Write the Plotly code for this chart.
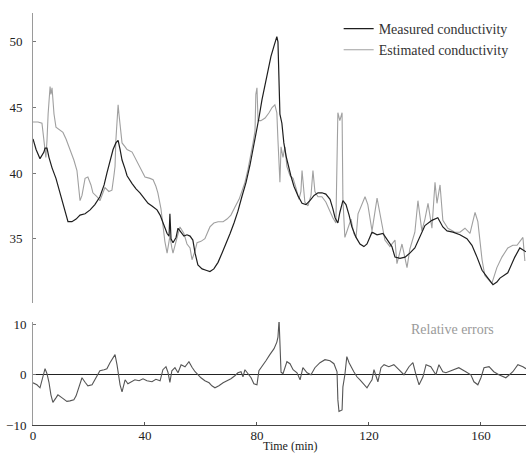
import plotly.graph_objects as go

# Time axis (min) and conductivity series
t_meas = [0, 1.1, 2.5, 3.9, 4.3, 5.0, 5.7, 6.8, 8.2, 9.6, 11.1, 12.5, 13.9, 15.4, 16.8, 18.6, 20.4, 22.1,
          23.9, 25.4, 26.4, 27.5, 28.6, 29.6, 30.4, 31.1, 31.8, 32.9, 33.6, 35.4, 36.8, 38.2, 39.6, 41.1,
          42.5, 44.3, 45.4, 46.4, 47.9, 48.6, 48.9, 49.3, 50.0, 51.1, 51.8, 52.5, 53.9, 55.0, 56.1, 57.1, 57.9,
          58.9, 60.4, 61.8, 63.2, 64.6, 66.1, 67.5, 68.9, 70.4, 71.8, 73.2, 74.6, 76.1, 77.5, 78.6,
          79.6, 80.7, 81.8, 82.9, 83.9, 85.0, 86.1, 87.1, 87.5, 87.9, 88.2, 88.9, 89.6, 90.4, 91.1,
          92.1, 93.2, 94.6, 96.1, 97.5, 98.9, 100.4, 101.8, 103.2, 104.6, 106.1, 107.1, 107.9, 108.9,
          109.6, 110.7, 111.8, 112.9, 113.9, 115.4, 116.8, 118.2, 119.3, 121.1, 122.9, 125.0, 126.4,
          128.2, 129.3, 131.1, 132.9, 134.6, 136.4, 138.2, 140.0, 142.5, 144.6, 146.4, 147.9, 150.0,
          152.5, 155.0, 156.8, 158.6, 160.4, 162.5, 164.3, 165.7, 166.8, 169.6, 172.1, 173.9, 176.1]
measured = [42.6, 41.8, 41.1, 41.6, 41.9, 41.9, 41.2, 40.4, 39.6, 38.5, 37.3, 36.3, 36.3, 36.5, 36.8, 36.9,
            37.2, 37.6, 38.2, 39.1, 40.0, 40.9, 41.8, 42.3, 42.5, 41.8, 41.0, 40.3, 39.8, 39.2, 38.8, 38.5,
            38.1, 37.7, 37.5, 37.2, 36.8, 36.2, 35.4, 35.2, 36.9, 35.0, 34.7, 35.1, 35.8, 35.6, 35.2, 35.3, 35.2,
            34.9, 33.9, 33.0, 32.7, 32.6, 32.5, 32.7, 33.2, 33.9, 34.6, 35.4, 36.2, 37.1, 38.2, 39.3,
            40.6, 41.8, 42.9, 44.2, 45.6, 46.8, 47.9, 48.9, 49.7, 50.4, 50.0, 47.0, 44.5, 43.8, 42.3,
            41.3, 40.6, 39.8, 39.0, 38.3, 37.7, 37.6, 37.9, 38.3, 38.5, 38.5, 38.4, 38.0, 37.3, 36.6,
            36.2, 37.0, 37.9, 37.6, 36.8, 35.9, 35.1, 34.6, 34.4, 34.6, 35.5, 35.3, 35.4, 35.0, 34.4,
            33.6, 33.5, 33.6, 33.9, 34.3, 35.1, 36.0, 36.4, 36.6, 35.9, 35.6, 35.5, 35.3, 35.0, 34.5,
            33.6, 32.6, 32.0, 31.5, 31.7, 32.0, 32.4, 33.6, 34.3, 34.0]

t_est = [0, 1.8, 3.2, 3.9, 4.6, 5.0, 5.4, 6.1, 6.4, 6.8, 7.5, 8.2, 9.6, 10.7, 11.8, 13.2, 14.6, 15.7, 16.4,
         16.8, 17.5, 18.6, 19.6, 20.7, 21.4, 22.9, 23.9, 25.0, 25.7, 27.1, 28.2, 28.9, 29.3, 29.6, 30.4,
         30.7, 31.1, 31.8, 32.9, 33.6, 35.4, 36.8, 38.2, 40.0, 41.8, 42.9, 43.9, 44.6, 45.7, 46.4, 47.1,
         47.9, 48.6, 48.9, 49.6, 50.0, 51.1, 52.5, 53.9, 55.0, 56.1, 56.8, 57.9, 58.6, 60.0, 61.4, 63.2,
         64.6, 66.1, 67.9, 69.3, 70.7, 72.1, 73.6, 74.6, 75.7, 76.8, 77.9, 78.6, 79.3, 79.6, 80.0, 80.4,
         81.4, 82.9, 84.3, 85.4, 86.4, 87.1, 87.5, 87.9, 88.2, 88.6, 89.3, 90.0, 90.7, 91.8, 92.9, 93.9,
         95.0, 95.7, 96.1, 96.4, 97.1, 98.2, 99.3, 100.0, 100.7, 101.8, 103.2, 104.6, 106.1, 107.1, 108.2,
         108.6, 108.9, 109.6, 110.4, 110.7, 111.4, 112.5, 113.6, 114.6, 115.4, 116.1, 117.5, 118.6, 119.6,
         121.1, 122.9, 123.9, 125.7, 127.5, 129.3, 130.0, 131.8, 133.6, 134.6, 136.4, 137.5, 138.9, 140.0,
         141.1, 142.5, 143.6, 144.3, 145.4, 146.4, 148.2, 150.7, 152.5, 154.3, 156.1, 157.9, 158.9, 160.4,
         161.4, 162.9, 163.9, 165.7, 167.5, 169.6, 171.4, 172.9, 175.0, 175.7]
estimated = [43.9, 43.9, 43.8, 42.5, 41.2, 42.5, 44.5, 46.6, 46.0, 46.5, 44.5, 43.5, 43.3, 43.1, 42.6, 41.8,
             41.0, 40.2, 38.8, 37.9, 38.3, 39.6, 39.7, 39.1, 38.5, 38.2, 37.9, 38.5, 38.9, 38.6, 38.7, 39.8,
             40.5, 42.5, 45.2, 44.5, 43.5, 42.3, 42.0, 41.8, 41.6, 41.0, 40.5, 39.7, 39.6, 39.5, 39.0, 38.5,
             37.3, 35.9, 34.8, 33.9, 35.0, 35.2, 34.3, 33.9, 34.8, 35.9, 35.4, 34.6, 34.3, 33.4, 34.1, 34.7,
             34.8, 35.0, 35.9, 36.2, 36.3, 36.3, 36.5, 36.8, 37.4, 38.0, 38.6, 39.3, 40.3, 41.4, 42.3, 43.2,
             46.0, 46.5, 44.0, 44.0, 44.2, 44.6, 45.0, 45.2, 44.6, 42.5, 40.0, 39.3, 42.0, 41.2, 42.0, 40.5,
             39.8, 39.6, 38.9, 38.0, 38.6, 40.2, 39.5, 37.8, 37.5, 38.3, 40.2, 38.6, 38.2, 38.2, 37.8, 37.0,
             36.6, 36.2, 40.0, 44.6, 44.0, 44.6, 38.0, 35.1, 35.8, 36.5, 35.4, 35.1, 36.9, 37.6, 38.2, 37.6,
             35.6, 38.1, 37.0, 34.9, 34.4, 34.9, 33.1, 34.6, 32.8, 34.2, 35.5, 37.9, 35.6, 36.5, 37.7, 35.8,
             39.3, 37.7, 39.1, 36.4, 35.8, 35.5, 35.5, 35.8, 35.4, 37.0, 36.3, 33.4, 32.2, 31.8, 31.6, 32.8,
             33.6, 34.3, 34.5, 34.5, 35.1, 33.3]

# Relative error series
t_err = [0, 1.4, 2.5, 3.6, 4.3, 5.0, 5.7, 6.4, 7.1, 8.2, 8.9, 10.4, 12.1, 13.2, 14.6, 15.4, 16.1, 16.8, 17.5,
         18.6, 19.6, 21.1, 22.1, 22.9, 23.9, 25.4, 26.4, 27.5, 28.6, 29.3, 30.0, 30.4, 31.1, 31.8, 32.9,
         33.9, 35.0, 36.4, 37.9, 39.3, 40.7, 42.5, 43.9, 45.4, 46.4, 47.5, 48.2, 48.9, 49.6, 50.7, 51.8,
         52.9, 54.3, 55.7, 56.8, 57.9, 60.0, 61.4, 62.9, 63.9, 65.0, 66.4, 67.9, 69.3, 70.7, 72.1, 73.2,
         74.3, 75.0, 75.7, 76.8, 77.9, 78.9, 80.0, 80.7, 81.8, 83.2, 84.6, 86.1, 87.1, 87.5, 87.9, 88.2,
         88.6, 89.3, 90.0, 90.7, 91.8, 92.9, 94.3, 95.4, 96.4, 97.9, 99.3, 100.7, 102.5, 104.3, 106.1,
         107.5, 108.6, 108.9, 109.3, 110.4, 110.7, 111.4, 112.1, 112.9, 114.6, 115.7, 116.8, 118.2, 119.3,
         120.4, 121.1, 121.8, 123.2, 124.3, 125.4, 127.1, 128.9, 130.7, 132.5, 134.3, 135.7, 136.8, 137.9,
         139.3, 140.4, 142.1, 143.9, 145.0, 146.4, 147.5, 150.0, 152.1, 154.6, 156.4, 157.5, 158.9, 160.0,
         161.1, 162.9, 164.6, 166.4, 168.9, 171.4, 173.2, 175.0, 176.1]
rel_err = [-1.6, -2.0, -2.6, -0.5, 1.2, 0.2, -1.5, -4.0, -5.5, -4.6, -4.0, -4.6, -5.3, -5.2, -5.0, -4.2,
           -3.0, -1.5, -0.6, -1.5, -2.2, -2.0, -1.0, 0.0, 0.8, 1.0, 1.2, 2.4, 3.5, 4.0, 2.0, 0.4, -2.0,
           -3.4, -1.0, -1.8, -1.5, -1.0, -1.2, -0.8, -1.2, -1.4, -0.9, -1.2, 1.0, 1.6, 0.5, -1.5, 0.8, 1.4,
           0.4, 2.0, 1.6, 2.6, 1.5, 0.6, -0.6, -1.2, -1.6, -2.2, -2.6, -2.2, -1.6, -1.2, -0.8, -0.2, 0.4,
           0.6, -0.4, 1.0, 0.3, -0.6, -1.8, -2.0, 0.8, 1.6, 2.8, 4.0, 5.2, 6.5, 7.5, 10.9, 5.0, 0.5, 0.2,
           1.5, 2.6, 2.2, 1.0, 0.4, -1.0, 1.4, 0.4, 0.0, 1.4, 2.4, 3.0, 2.8, 2.2, 0.6, -5.0, -7.3, -7.0,
           -2.4, 0.0, 3.6, 2.4, 0.6, -0.4, -1.0, -2.0, -2.6, -1.6, -1.0, 1.0, -1.4, 1.4, 2.0, 1.6, 2.0, 1.0,
           0.0, 1.6, 2.4, 0.0, -2.0, -0.4, 2.0, 1.6, 0.0, 2.0, 0.6, 0.4, 1.0, 1.4, 0.6, 0.0, -1.4, -2.0,
           -0.6, 1.4, 1.6, 0.6, 0.0, -0.6, 0.6, 2.0, 1.6, 1.2]

x_ticks = [0, 40, 80, 120, 160]
y_ticks_top = [35, 40, 45, 50]
y_ticks_bottom = [-10, 0, 10]

SERIF = "Liberation Serif"

fig = go.Figure()

fig.add_trace(go.Scatter(
    x=t_est, y=estimated, mode="lines", name="Estimated conductivity",
    line=dict(color="#a0a0a0", width=1.1), xaxis="x", yaxis="y", legendrank=2))
fig.add_trace(go.Scatter(
    x=t_meas, y=measured, mode="lines", name="Measured conductivity",
    line=dict(color="#1e1e1e", width=1.2), xaxis="x", yaxis="y", legendrank=1))
fig.add_trace(go.Scatter(
    x=t_err, y=rel_err, mode="lines", name="Relative errors", showlegend=False,
    line=dict(color="#555555", width=1.1), xaxis="x2", yaxis="y2"))

fig.update_layout(
    width=526, height=455,
    margin=dict(l=33, r=0, t=13, b=30),
    paper_bgcolor="white", plot_bgcolor="white",
    font=dict(family=SERIF, size=13, color="#222"),
    showlegend=True,
    legend=dict(x=0.62, y=1.0, xanchor="left", yanchor="top",
                bgcolor="rgba(0,0,0,0)", font=dict(family=SERIF, size=14, color="#333"),
                tracegroupgap=0, itemwidth=30),
    xaxis=dict(domain=[0, 1], anchor="y", range=[0, 176.1], visible=False, matches="x2"),
    yaxis=dict(domain=[0.296, 1], anchor="x", range=[30.1, 52.2], tickvals=y_ticks_top,
               showline=True, linecolor="#9a9a9a", linewidth=1, ticks="inside", ticklen=3,
               tickcolor="#777", showgrid=False, zeroline=False, ticklabelstandoff=7),
    xaxis2=dict(domain=[0, 1], anchor="y2", range=[0, 176.1], tickvals=x_ticks,
                showline=True, linecolor="#444", linewidth=1, ticks="inside", ticklen=3,
                tickcolor="#555", showgrid=False, zeroline=False, ticklabelstandoff=-2),
    yaxis2=dict(domain=[0, 0.25], anchor="x2", range=[-10, 10.5], tickvals=y_ticks_bottom,
                showline=True, linecolor="#9a9a9a", linewidth=1, ticks="inside", ticklen=3,
                tickcolor="#777", showgrid=False, zeroline=True, zerolinecolor="#222",
                zerolinewidth=1, ticklabelstandoff=3),
    annotations=[
        dict(text="Relative errors", xref="paper", yref="paper", x=0.85, y=0.231,
             xanchor="center", yanchor="middle", showarrow=False,
             font=dict(family=SERIF, size=14, color="#9a9a9a")),
        dict(text="Time (min)", xref="paper", yref="paper", x=0.523, y=-0.0291,
             xanchor="center", yanchor="top", showarrow=False,
             font=dict(family=SERIF, size=12, color="#222")),
    ],
)

fig.write_html("out.html")
